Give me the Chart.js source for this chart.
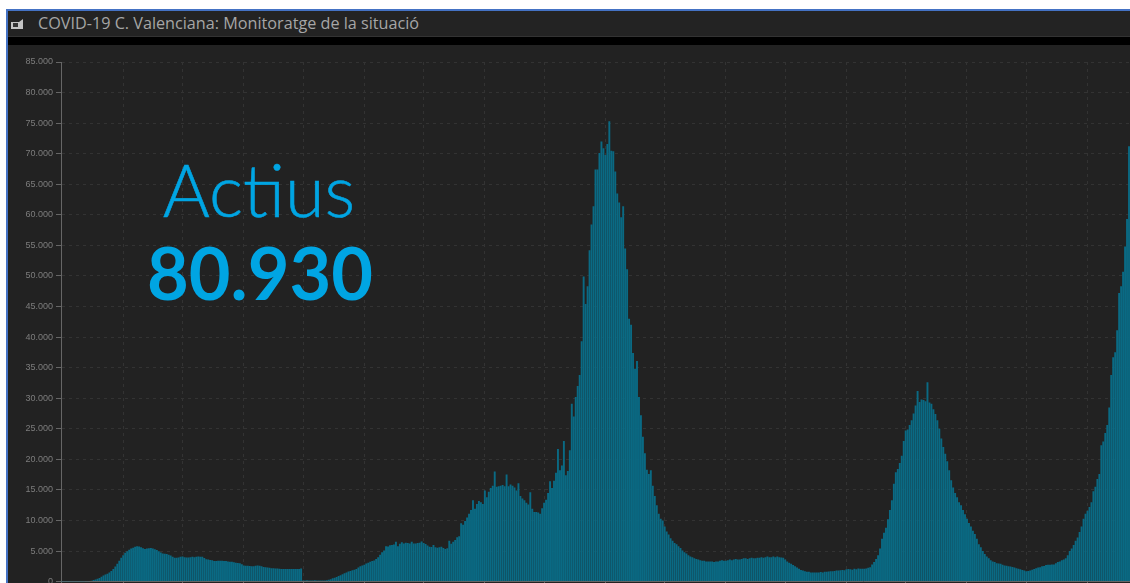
<!DOCTYPE html>
<html>
<head>
<meta charset="utf-8">
<script src="https://cdn.jsdelivr.net/npm/chart.js@4"></script>
<style>
  html, body { margin: 0; padding: 0; background: #fff; overflow: hidden; }
  #frame { position: absolute; left: 6px; top: 9px; width: 1124px; height: 574px; border-left: 2px solid #4472c4; border-top: 2px solid #4472c4; box-sizing: border-box; background: #222; }
  #titlebar { position: absolute; left: 0; top: 0; right: 0; height: 26px; background: #232323; border-bottom: 1px solid #333; box-sizing: border-box; }
  #titlebar span { position: absolute; left: 30px; top: 1px; font: 16.2px "Open Sans", sans-serif; color: #a6a6a6; white-space: nowrap; }
  #titlebar svg { position: absolute; left: 3px; top: 8px; }
  #band { position: absolute; left: 0; top: 26px; right: 0; height: 8px; background: #000; }
  #chartBox { position: absolute; left: 0; top: 44px; width: 1130px; height: 539px; overflow: hidden; }
  .big { position: absolute; width: 400px; text-align: center; color: #00a5e3; white-space: nowrap; font-variant-ligatures: none; }
  #label { left: 59px; top: 146px; font: 300 72px Lato, sans-serif; -webkit-text-stroke: 0.6px #00a5e3; }
  #value { left: 60px; top: 229px; font: 700 72px Lato, sans-serif; }
</style>
</head>
<body>
<div id="frame">
  <div id="titlebar">
    <svg width="13" height="10" viewBox="0 0 13 10"><path d="M0 3h8l4-3v10H0z" fill="#c4c4c4"/><rect x="2" y="4" width="5" height="4" fill="#333"/></svg>
    <span>COVID-19 C. Valenciana: Monitoratge de la situació</span>
  </div>
  <div id="band"></div>
</div>
<div id="chartBox"><canvas id="activeChart" width="1130" height="546"></canvas></div>
<div id="label" class="big">Actius</div>
<div id="value" class="big">80.930</div>
<script>
// Active cases per day
const firstWave = [
  10,10,10,10,10,10,10,20,20,20,30,30,40,60,
  100,150,250,350,450,600,800,1000,1150,1300,1500,1750,2050,2450,2900,3400,3900,4300,4700,
  4950,5200,5400,5550,5700,5800,5750,5600,5450,5350,5400,5450,5500,
  5400,5300,5150,4950,4750,4600,4550,4500,4400,4250,4050,3900,
  3900,3950,4050,4100,4000,3950,3950,4000,4050,4000,4050,4100,4050,4050,3850,3650,
  3600,3550,3500,3350,3350,3400,3400,3400,3350,3350,3300,3250,3250,3150,3100,
  3050,3000,2850,2650,2600,2600,2550,2500,2500,2600,2650,2600,
  2500,2400,2350,2300,2250,2200,2200,2150,2150,2100,2050,2050,2050,2050,2050,2050,2050,2050,2050,2050,2150,
  200,200,220,200,180,200,210,190,180,170,180,200,220
];
const secondWave = [
  300,400,550,650,750,900,1050,1200,1350,1500,1650,1750,1850,1950,2050,2300,2500,2650,2750,2950,3100,3250,3350,3450,3700,
  4000,4400,4800,5100,5800,5750,5950,6000,6050,6500,5800,6200,
  6450,6250,6350,6300,6250,6500,6250,6250,6300,6350,6550,6300,6150,5900,5700,5650,6000,5600,5550,5600,5700,5500,5350,5450,6700,6200,6500,6800,7250,7400,
  9550,9300,9900,10500,11100,11700,13300,11900,12700,13200,13000,12700,14900,13800,14700,15300,15700,18000,15500,15600,
  15700,15800,15600,17500,15600,15900,15700,15400,14900,16100,14000,13600,13300,12900,12600,14600,11900,11400,11400,11300,11100,
  12000,12900,13400,14500,16400,15300,16500,17800,21700,18200,19000,23000,17400,18100,21500
];
const thirdWave = [
  29100,27000,30200,32000,33800,39300,49900,45400,48300,54200,58400,61400,67400,67400,70100,72000,70900,69800,71600,75300,
  70500,70400,67100,63500,62000,59600,61400,54500,51100,43000,42000,37400,34800,36100,30200,27200,23700,21000,18300,17600,
  18200,15700,14000,12500,11100,10300,10000,9000,8200,7700,7100,6700,6300,6100,5800,5500,5100,4800,4600,4300,4100,4000,3800
];
const summerLull = [
  3700,3600,3500,3400,3400,3300,3300,3300,3300,3200,3300,3300,3400,3500,3400,3400,3500,3600,3500,3600,3700,3600,
  3600,3700,3800,3800,3700,3800,3900,3800,3800,3900,3900,4000,3900,4000,4100,4000,4000,4100,4000,4100,4000,3950,
  3900,3600,3300,3100,2900,2700,2500,2300,2100,1900,1800,1700,1600,1600,1500,1500,1500,1500,
  1500,1550,1500,1600,1600,1650,1700,1700,1750,1800,1800,1850,1900,1850,2000,2050,2000,1950,2100,2000,2150,2100,2100
];
const fifthWave = [
  2100,2150,2250,2350,2800,3200,3700,4300,5400,7000,8000,8800,10200,11700,13300,16000,17900,18400,19400,20600,
  23000,24700,24900,25600,26400,27500,28800,31200,29400,29800,29700,29500,32600,29300,29100,28200,27400,26400,25000,23400,
  22000,20900,19700,18200,16600,15400,14500,13800,13000,12500,11700,11000,10300,9600,9000,8300,7800,7000,6100,5600,
  5000,4500,4100,3800,3500,3300,3200,3000,2950,2900,2750,2650,2600,2500,2450,2400,2300,2200,2100,2000,1900,1800,1700,1750
];
const sixthWave = [
  1800,1950,2050,2200,2300,2350,2500,2550,2700,2750,2750,2800,2800,3000,3200,3300,3500,3600,3800,4300,
  5000,5400,6000,6700,7200,8100,9000,10300,11100,11600,12200,13000,14800,15500,16800,17600,22300,22900,24300,25600,
  28500,33800,36700,37500,41100,47200,48300,50700,54800,59300,71200
];
const activeCases = [...firstWave, ...secondWave, ...thirdWave, ...summerLull, ...fifthWave, ...sixthWave];

const startDate = new Date(2020, 1, 20);
const dayLabels = activeCases.map((v, i) => {
  const d = new Date(startDate.getTime() + i * 86400000);
  return d.getDate() + '/' + (d.getMonth() + 1) + '/' + d.getFullYear();
});
const yMax = 85000;
const yStep = 5000;
const monthStep = 30.5;

function formatThousands(v) {
  return v === 0 ? '0' : String(v).replace(/\B(?=(\d{3})+$)/g, '.');
}

new Chart(document.getElementById('activeChart').getContext('2d'), {
  type: 'bar',
  data: {
    labels: dayLabels,
    datasets: [{
      label: 'Actius',
      data: activeCases,
      backgroundColor: '#0a6a84',
      borderWidth: 0,
      barPercentage: 0.96,
      categoryPercentage: 1
    }]
  },
  options: {
    responsive: false,
    animation: false,
    layout: { padding: { top: 18 } },
    plugins: { legend: { display: false }, tooltip: { enabled: false } },
    scales: {
      x: {
        offset: true,
        grid: { offset: false, color: '#333', tickColor: '#666', tickLength: 2, lineWidth: 1 },
        border: { color: '#666', dash: [3, 4] },
        ticks: { display: false, autoSkip: false },
        afterBuildTicks: (scale) => {
          const ticks = [];
          for (let i = 0; i * monthStep < activeCases.length; i++) ticks.push({ value: Math.round(i * monthStep) });
          scale.ticks = ticks;
        },
        afterFit: (scale) => { scale.height = 2; }
      },
      y: {
        min: 0,
        max: yMax,
        afterFit: (scale) => { scale.width = 61; },
        grid: { color: '#333', tickColor: '#666', tickLength: 5 },
        border: { color: '#666', dash: [3, 4] },
        ticks: {
          stepSize: yStep,
          padding: 3,
          color: '#7d7d7d',
          font: { family: 'Liberation Sans', size: 9 },
          callback: formatThousands
        }
      }
    }
  }
});
</script>
</body>
</html>
